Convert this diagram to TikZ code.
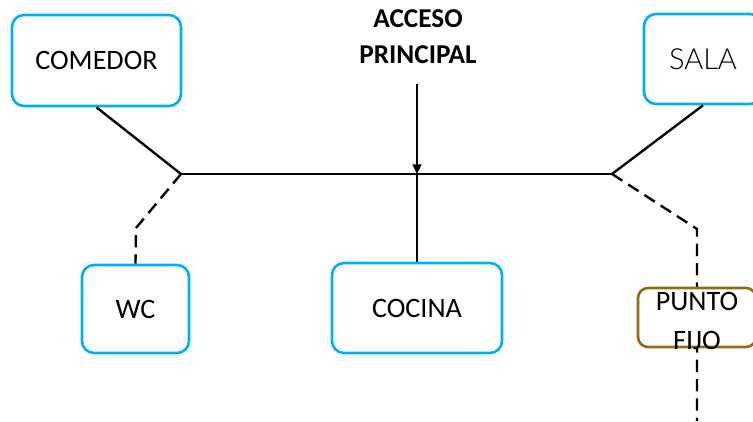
\documentclass[tikz,border=0pt]{standalone}
\usepackage{fontspec}
\setmainfont{Carlito}
\IfFontExistsTF{Lato Light}{\newfontfamily\lightfont{Lato Light}}{\newfontfamily\lightfont{Carlito}}
\usetikzlibrary{
    positioning,
    arrows.meta
}
\definecolor{roomCyan}{RGB}{0, 176, 240}
\definecolor{coreOlive}{RGB}{140, 110, 20}
\tikzset{
    room/.style={draw=roomCyan, line width=1.5pt, rounded corners=0.24cm, fill=white,
        align=center, inner sep=0pt, font=\fontsize{16}{20}\selectfont},
    core/.style={draw=coreOlive, line width=1.5pt, rounded corners=0.2cm, fill=white, inner sep=0pt},
    link/.style={line width=1.35pt},
    hidden link/.style={link, dash pattern=on 7pt off 4pt}
}

\begin{document}
\begin{tikzpicture}[scale=1.0, >={Triangle[length=5.5pt, width=5pt]}]
        \useasboundingbox (0,0) rectangle (15.06,8.42);

        % Rooms
        \node[room, minimum width=3.38cm, minimum height=1.82cm] (comedor) at (1.93,7.21) {COMEDOR};
        \node[room, minimum width=2.36cm, minimum height=1.8cm,
              font=\lightfont\fontsize{16.5}{20}\selectfont] (sala) at (14.06,7.24) {SALA};
        \node[room, minimum width=2.14cm, minimum height=1.76cm] (wc) at (2.71,2.24) {WC};
        \node[room, minimum width=3.4cm, minimum height=1.8cm] (cocina) at (8.34,2.26) {COCINA};

        \coordinate (J1) at (3.62,4.94);
        \coordinate (J2) at (8.34,4.94);
        \coordinate (J3) at (12.24,4.94);
        \coordinate (wcBend) at (2.72,3.86);
        \coordinate (fijoBend) at (13.94,3.84);
        \coordinate (fijoEnd) at (13.94,0);
        \coordinate (accesoTop) at (8.34,6.74);

        % Corridor
        \draw[link] (J1) -- (J3);
        \draw[link] (comedor.south) -- (J1);
        \draw[link] (sala.south) -- (J3);
        \draw[link] (J2) -- (cocina.north);

        % Dashed links
        \draw[hidden link] (J1) -- (wcBend) -- (wc.north);
        \draw[hidden link] (J3) -- (fijoBend) -- (fijoEnd);

        % Core
        \node[core, minimum width=2.36cm, minimum height=1.18cm] (fijo) at (13.94,2.07) {};
        \node[align=center, inner sep=0pt, font=\fontsize{16}{22.5}\selectfont] (fijoText) at (13.94,2.0) {PUNTO\\FIJO};

        % Entrance
        \node[align=center, inner sep=0pt, font=\bfseries\fontsize{15.5}{20.4}\selectfont] (acceso) at (8.36,7.69) {ACCESO\\PRINCIPAL};
        \draw[->, link] (accesoTop) -- (J2);
    \end{tikzpicture}
\end{document}
